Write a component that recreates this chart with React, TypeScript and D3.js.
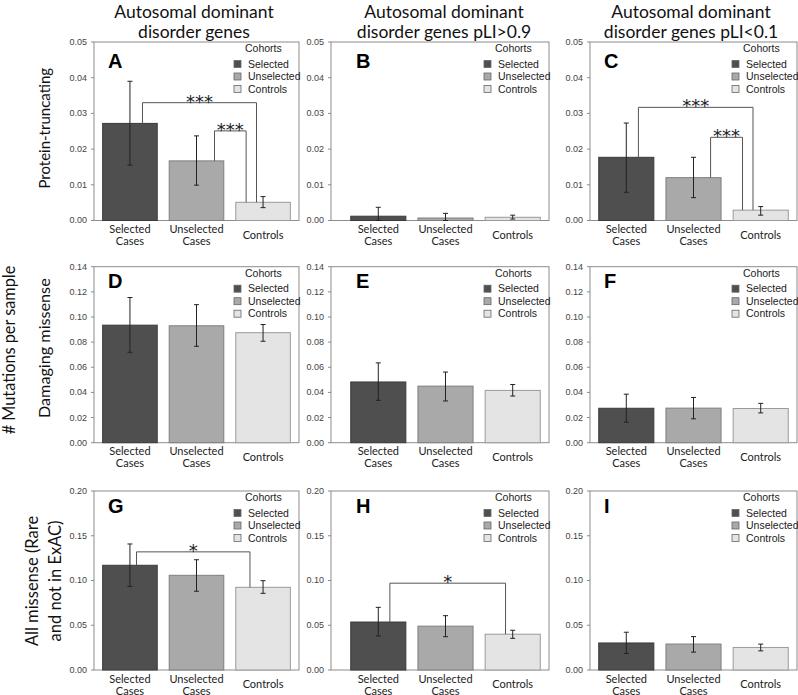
import React from 'react';
import * as d3 from 'd3';

const cohorts = ['Selected', 'Unselected', 'Controls'];
const xLabels = [['Selected', 'Cases'], ['Unselected', 'Cases'], ['Controls']];
const panelLetters = ['A', 'B', 'C', 'D', 'E', 'F', 'G', 'H', 'I'];
const columnTitles = [
  ['Autosomal dominant', 'disorder genes'],
  ['Autosomal dominant', 'disorder genes pLI>0.9'],
  ['Autosomal dominant', 'disorder genes pLI<0.1'],
];
const rowLabels = [['Protein-truncating'], ['Damaging missense'], ['All missense (Rare', 'and not in ExAC)']];
const sharedLabel = '# Mutations per sample';
const yMax = [0.05, 0.14, 0.2];
const yTicks = [
  [0, 0.01, 0.02, 0.03, 0.04, 0.05],
  [0, 0.02, 0.04, 0.06, 0.08, 0.1, 0.12, 0.14],
  [0, 0.05, 0.1, 0.15, 0.2],
];

// per panel (A..I), per cohort
const means = [
  [0.0272, 0.0167, 0.0051],
  [0.0012, 0.0007, 0.0009],
  [0.0177, 0.012, 0.0029],
  [0.0935, 0.093, 0.0875],
  [0.0483, 0.045, 0.0416],
  [0.0274, 0.0275, 0.0272],
  [0.117, 0.1058, 0.0924],
  [0.0536, 0.049, 0.04],
  [0.0302, 0.029, 0.0252],
];
const errLow = [
  [0.0155, 0.0099, 0.0036],
  [0.0, 0.0, 0.0004],
  [0.0079, 0.0064, 0.0015],
  [0.0719, 0.0767, 0.0807],
  [0.0337, 0.0332, 0.0371],
  [0.0163, 0.019, 0.0237],
  [0.0935, 0.088, 0.0857],
  [0.038, 0.0372, 0.0354],
  [0.0185, 0.02, 0.0214],
];
const errHigh = [
  [0.039, 0.0237, 0.0067],
  [0.0037, 0.002, 0.0015],
  [0.0273, 0.0177, 0.0039],
  [0.1155, 0.1098, 0.094],
  [0.0635, 0.0562, 0.0463],
  [0.0386, 0.036, 0.0313],
  [0.1408, 0.1232, 0.0998],
  [0.07, 0.0607, 0.0444],
  [0.0422, 0.0373, 0.0289],
];
// significance brackets
const brackets = [
  { panel: 0, from: 0, to: 2, value: 0.033, label: '***', fromFrac: 0.73, toFrac: 0.38 },
  { panel: 0, from: 1, to: 2, value: 0.0251, label: '***', fromFrac: 0.83, toFrac: 0.19 },
  { panel: 2, from: 0, to: 2, value: 0.0317, label: '***', fromFrac: 0.72, toFrac: 0.36 },
  { panel: 2, from: 1, to: 2, value: 0.0233, label: '***', fromFrac: 0.81, toFrac: 0.17 },
  { panel: 6, from: 0, to: 2, value: 0.132, label: '*', fromFrac: 0.62, toFrac: 0.26 },
  { panel: 7, from: 0, to: 2, value: 0.097, label: '*', fromFrac: 0.71, toFrac: 0.37 },
];

const fills = ['#4f4f4f', '#a9a9a9', '#e4e4e4'];
const strokes = ['#3a3a3a', '#7f7f7f', '#9a9a9a'];

const rowTop = [42, 266.7, 491];
const rowBottom = [220.5, 442.7, 670];
const colAxis = [94, 331, 590];
const colStart = [94, 342, 590];
const colRight = [299, 549, 797];
const letterOffset = [26, 21, 22];
const titleCenters = [194, 444, 691];
const rowLabelSize = [15, 16.2, 16.5];
const rowLabelShift = [-3, -6.5, 0.5];

const gill = 'Lato, "Open Sans", sans-serif';
const helv = '"Liberation Sans", Arial, sans-serif';

function Panel({ r, c }: { r: number; c: number }) {
  const p = r * 3 + c;
  const y = d3.scaleLinear().domain([0, yMax[r]]).range([rowBottom[r], rowTop[r]]);
  const x = d3.scaleBand<number>().domain([0, 1, 2]).range([colStart[c], colRight[c]]).paddingInner(0.18).paddingOuter(0.13);
  const bw = x.bandwidth();
  const fmt = d3.format('.2f');
  const right = colRight[c];
  const top = rowTop[r];
  return (
    <g>
      <rect x={colAxis[c]} y={top} width={right - colAxis[c]} height={rowBottom[r] - top} fill="white" stroke="#8c8c8c" strokeWidth={1} />
      {yTicks[r].map((t) => (
        <g key={t}>
          <line x1={colAxis[c] - 3} x2={colAxis[c]} y1={y(t)} y2={y(t)} stroke="#8c8c8c" />
          <text x={colAxis[c] - 7} y={y(t)} dy="0.33em" textAnchor="end" fontSize={9} fontFamily={helv} fill="#444">
            {fmt(t)}
          </text>
        </g>
      ))}
      {cohorts.map((_, i) => {
        const bx = x(i)!;
        const cx = bx + bw / 2;
        return (
          <g key={i}>
            <rect x={bx} y={y(means[p][i])} width={bw} height={rowBottom[r] - y(means[p][i])} fill={fills[i]} stroke={strokes[i]} strokeWidth={1} />
            <line x1={cx} x2={cx} y1={y(errLow[p][i])} y2={y(errHigh[p][i])} stroke="#222" strokeWidth={1} />
            <line x1={cx - 2.5} x2={cx + 2.5} y1={y(errLow[p][i])} y2={y(errLow[p][i])} stroke="#222" strokeWidth={1} />
            <line x1={cx - 2.5} x2={cx + 2.5} y1={y(errHigh[p][i])} y2={y(errHigh[p][i])} stroke="#222" strokeWidth={1} />
            {xLabels[i].length === 2 ? (
              <>
                <text x={cx} y={rowBottom[r] + 12.5} textAnchor="middle" fontSize={11} fontFamily={gill} fill="#222">{xLabels[i][0]}</text>
                <text x={cx} y={rowBottom[r] + 24.5} textAnchor="middle" fontSize={11} fontFamily={gill} fill="#222">{xLabels[i][1]}</text>
              </>
            ) : (
              <text x={cx} y={rowBottom[r] + 18} textAnchor="middle" fontSize={11} fontFamily={gill} fill="#222">{xLabels[i][0]}</text>
            )}
          </g>
        );
      })}
      {brackets.filter((b) => b.panel === p).map((b, k) => {
        const x1 = x(b.from)! + bw * b.fromFrac;
        const x2 = x(b.to)! + bw * b.toFrac;
        const yl = y(b.value);
        return (
          <g key={k}>
            <path d={`M${x1},${y(means[p][b.from])}V${yl}H${x2}V${y(means[p][b.to])}`} fill="none" stroke="#555" strokeWidth={1} />
            <text x={(x1 + x2) / 2} y={yl + 5} textAnchor="middle" fontSize={18} fontFamily='"DejaVu Sans", sans-serif' fill="#222">{b.label}</text>
          </g>
        );
      })}
      <text x={colStart[c] + 14} y={top + letterOffset[r]} fontSize={20} fontWeight={900} fontFamily={helv} fill="#000">{panelLetters[p]}</text>
      <text x={right - 54} y={top + 10} fontSize={10.5} fontFamily={helv} fill="#222">Cohorts</text>
      {cohorts.map((name, i) => (
        <g key={name}>
          <rect x={right - 65} y={top + 18.5 + i * 12.5} width={7} height={7} fill={fills[i]} stroke="#666" strokeWidth={0.8} />
          <text x={right - 51} y={top + 25.5 + i * 12.5} fontSize={10.5} fontFamily={helv} fill="#222">{name}</text>
        </g>
      ))}
    </g>
  );
}

export default function App() {
  const rowCenters = rowTop.map((t, i) => (t + rowBottom[i]) / 2);
  return (
    <svg width={798} height={695} style={{ position: 'absolute', left: 0, top: 0, background: 'white' }}>
      <rect width={798} height={695} fill="white" />
      {columnTitles.map((lines, c) => (
        <g key={c}>
          {lines.map((l, j) => (
            <text key={j} x={titleCenters[c]} y={17.5 + j * 20.5} textAnchor="middle" fontSize={17.5} fontFamily={gill} fill="#111">{l}</text>
          ))}
        </g>
      ))}
      {rowLabels.map((lines, r) => (
        <g key={r}>
          {lines.map((l, j) => {
            const bx = lines.length === 1 ? 50 : 38 + j * 23;
            const cy = rowCenters[r] + rowLabelShift[r];
            return (
              <text key={j} transform={`translate(${bx},${cy}) rotate(-90)`} textAnchor="middle" fontSize={rowLabelSize[r]} fontFamily={gill} fill="#111">{l}</text>
            );
          })}
        </g>
      ))}
      <text transform={`translate(14.5,350) rotate(-90)`} textAnchor="middle" fontSize={16.3} fontFamily={gill} fill="#111">{sharedLabel}</text>
      {[0, 1, 2].map((r) => [0, 1, 2].map((c) => <Panel key={`${r}-${c}`} r={r} c={c} />))}
    </svg>
  );
}
